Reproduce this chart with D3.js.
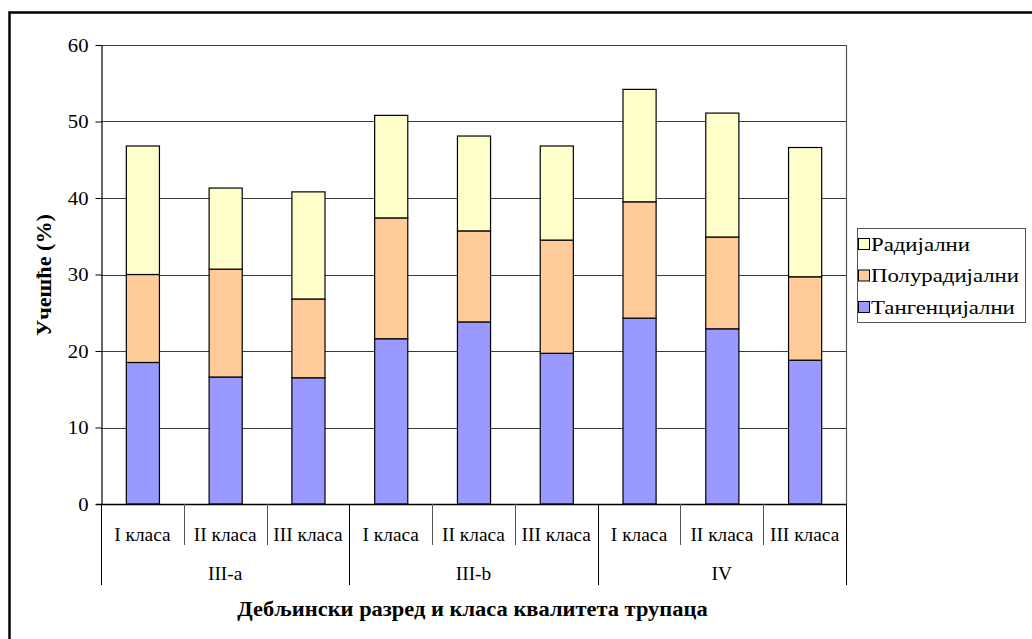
<!DOCTYPE html>
<html>
<head>
<meta charset="utf-8">
<script src="https://cdn.jsdelivr.net/npm/d3@7"></script>
<style>
  html, body { margin: 0; padding: 0; background: #fff; }
  svg { display: block; }
  text { font-family: "Liberation Serif", "Times New Roman", serif; fill: #000; }
</style>
</head>
<body>
<svg id="chart" width="1032" height="639"></svg>
<script>
// Diameter classes (groups) and log quality classes within each group
const groups = ["III-a", "III-b", "IV"];
const classes = ["I класа", "II класа", "III класа"];

// Share (%) of each sawing type, one value per group/class, in drawing order
const tangential = [18.5, 16.6, 16.5, 21.6, 23.8, 19.7, 24.3, 22.9, 18.8];
const semiRadial = [11.5, 14.1, 10.3, 15.8, 11.9, 14.8, 15.2, 12.0, 10.9];
const radial     = [16.8, 10.6, 14.0, 13.4, 12.4, 12.3, 14.7, 16.2, 16.9];

const seriesNames = ["Тангенцијални", "Полурадијални", "Радијални"];
const seriesColors = ["#9999FF", "#FFCC99", "#FFFFCC"];
const yTicks = [0, 10, 20, 30, 40, 50, 60];

const yTitle = "Учешће (%)";
const xTitle = "Дебљински разред и класа квалитета трупаца";

const plot = { left: 101, right: 846, top: 45, bottom: 504 };

const svg = d3.select("#chart");

// outer frame
svg.append("rect")
  .attr("x", 9.5).attr("y", 12.5)
  .attr("width", 1060).attr("height", 660)
  .attr("fill", "none").attr("stroke", "#000").attr("stroke-width", 2.5);

const rows = [];
groups.forEach((g, gi) => classes.forEach((c, ci) => {
  const i = gi * classes.length + ci;
  rows.push({ key: g + "|" + c, group: g, cls: c,
    "Тангенцијални": tangential[i], "Полурадијални": semiRadial[i], "Радијални": radial[i] });
}));

const x = d3.scaleBand().domain(rows.map(d => d.key))
  .range([plot.left, plot.right]).paddingInner(0.6).paddingOuter(0.3);
const xb = d3.scaleBand().domain(rows.map(d => d.key)).range([plot.left, plot.right]);
const y = d3.scaleLinear().domain([0, 60]).range([plot.bottom, plot.top]);

// place a text at (tx,ty) with a slight horizontal stretch
function placeText(sel, tx, ty, sx, rot) {
  return sel.attr("x", 0).attr("y", 0)
    .attr("transform", `translate(${tx},${ty})${rot ? ` rotate(${rot})` : ""} scale(${sx},1)`);
}

// gridlines
svg.append("g").selectAll("line").data(yTicks.filter(t => t > 0)).join("line")
  .attr("x1", plot.left).attr("x2", plot.right)
  .attr("y1", d => Math.round(y(d)) + 0.5).attr("y2", d => Math.round(y(d)) + 0.5)
  .attr("stroke", "#3a3a3a").attr("stroke-width", 1);

// plot-area frame (right side)
svg.append("line")
  .attr("x1", plot.right + 0.5).attr("x2", plot.right + 0.5)
  .attr("y1", plot.top).attr("y2", plot.bottom)
  .attr("stroke", "#555").attr("stroke-width", 1.2);

// stacked bars
const stack = d3.stack().keys(seriesNames)(rows);
svg.append("g").selectAll("g").data(stack).join("g")
  .attr("fill", (d, i) => seriesColors[i])
  .selectAll("rect").data(d => d).join("rect")
  .attr("x", d => x(d.data.key) + 0.5)
  .attr("width", x.bandwidth())
  .attr("y", d => y(d[1]))
  .attr("height", d => y(d[0]) - y(d[1]))
  .attr("stroke", "#000").attr("stroke-width", 1.2);

// y axis
const yAxis = d3.axisLeft(y).tickValues(yTicks).tickSize(6).tickSizeOuter(0);
const ya = svg.append("g").attr("transform", `translate(${plot.left + 0.5},0)`).call(yAxis);
ya.select(".domain").attr("stroke", "#000").attr("stroke-width", 1.2);
ya.selectAll(".tick line").attr("stroke", "#000");
ya.selectAll(".tick text").remove();
ya.selectAll(".tick").append("text")
  .attr("text-anchor", "end").attr("dy", "0.35em")
  .style("font-size", "18px")
  .each(function () { placeText(d3.select(this), -13, 0, 1.15); })
  .text(d => d);

// x axis baseline
svg.append("line")
  .attr("x1", plot.left - 5).attr("x2", plot.right)
  .attr("y1", plot.bottom + 0.5).attr("y2", plot.bottom + 0.5)
  .attr("stroke", "#000").attr("stroke-width", 1.5);

// category separators
const catTickBottom = 545, groupTickBottom = 585;
const bounds = d3.range(rows.length + 1).map(i => plot.left + i * xb.step());
svg.append("g").selectAll("line").data(bounds).join("line")
  .attr("x1", d => Math.round(d) + 0.5).attr("x2", d => Math.round(d) + 0.5)
  .attr("y1", plot.bottom)
  .attr("y2", (d, i) => i % classes.length === 0 ? groupTickBottom : catTickBottom)
  .attr("stroke", (d, i) => i % classes.length === 0 ? "#000" : "#555")
  .attr("stroke-width", 1);

// category labels
svg.append("g").selectAll("text").data(rows).join("text")
  .attr("text-anchor", "middle").attr("dy", "0.35em")
  .style("font-size", "19px")
  .each(function (d) { placeText(d3.select(this), xb(d.key) + xb.bandwidth() / 2, 534, 1.02); })
  .text(d => d.cls);

// group labels
svg.append("g").selectAll("text").data(groups).join("text")
  .attr("text-anchor", "middle").attr("dy", "0.35em")
  .style("font-size", "19px")
  .each(function (d, gi) {
    const cx = plot.left + (gi + 0.5) * classes.length * xb.step();
    placeText(d3.select(this), cx, 573, 1.02);
  })
  .text(d => d);

// axis titles
placeText(svg.append("text"), (plot.left + plot.right) / 2 - 1, 609, 1.07)
  .attr("text-anchor", "middle").attr("dy", "0.35em")
  .style("font-size", "21px").style("font-weight", "bold")
  .text(xTitle);

placeText(svg.append("text"), 44, 275, 1.11, -90)
  .attr("text-anchor", "middle").attr("dy", "0.35em")
  .style("font-size", "20px").style("font-weight", "bold")
  .text(yTitle);

// legend
const legend = svg.append("g").attr("transform", "translate(857,228)");
legend.append("rect")
  .attr("x", 0.5).attr("y", 0.5).attr("width", 168).attr("height", 94)
  .attr("fill", "#fff").attr("stroke", "#555").attr("stroke-width", 1);
const legendOrder = [2, 1, 0];
const li = legend.selectAll("g.item").data(legendOrder).join("g")
  .attr("class", "item")
  .attr("transform", (d, i) => `translate(0,${16 + i * 31.5})`);
li.append("rect")
  .attr("x", 1.5).attr("y", -5.5).attr("width", 11).attr("height", 11)
  .attr("fill", d => seriesColors[d]).attr("stroke", "#000").attr("stroke-width", 1);
li.append("text")
  .attr("dy", "0.35em").style("font-size", "19px")
  .each(function () { placeText(d3.select(this), 14, 0, 1.2); })
  .text(d => seriesNames[d]);
</script>
</body>
</html>
